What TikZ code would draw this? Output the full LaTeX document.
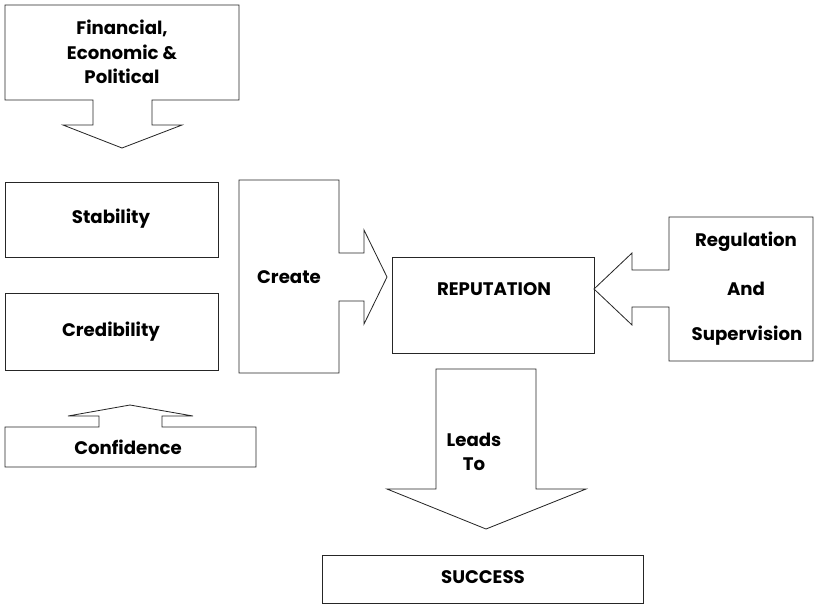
\documentclass[tikz,border=0pt]{standalone}
\usepackage{fontspec}
\setmainfont{Poppins}
\usepackage{tikz}

\tikzset{
	outline/.style={draw=black!85, line width=0.7pt, line join=miter},
	lbl/.style={font=\fontsize{15.5}{21}\selectfont\bfseries, align=center, inner sep=0pt}
}

\begin{document}
\begin{tikzpicture}[x=0.03cm, y=-0.03cm]
		%%%%% START %%%%%
		
		\useasboundingbox (0, 0) rectangle (815, 605);
		
		% top callout
		\draw[outline] (5, 5) -- (239, 5) -- (239, 100) -- (152, 100) -- (152, 125) -- (182, 125) -- (122, 148) -- (63, 125) -- (93, 125) -- (93, 100) -- (5, 100) -- cycle;
		\node[lbl] (fep) at (122, 52) {Financial,\\Economic \&\\Political};
		
		\draw[outline] (5, 182) rectangle (218, 257);
		\node[lbl] (stab) at (111, 219) {Stability};
		
		\draw[outline] (5, 293) rectangle (218, 370);
		\node[lbl] (cred) at (111, 332) {Credibility};
		
		% confidence callout
		\draw[outline] (5, 427) -- (99, 427) -- (99, 416) -- (68, 416) -- (130, 405) -- (193, 416) -- (162, 416) -- (162, 427) -- (256, 427) -- (256, 467) -- (5, 467) -- cycle;
		\node[lbl] (conf) at (128, 447) {Confidence};
		
		% create callout
		\draw[outline] (239, 180) -- (339, 180) -- (339, 253) -- (364, 253) -- (364, 230) -- (387, 277) -- (364, 324) -- (364, 301) -- (339, 301) -- (339, 373) -- (239, 373) -- cycle;
		\node[lbl] (create) at (289, 277) {Create};
		
		\draw[outline] (392, 257) rectangle (594, 353);
		\node[lbl] (rep) at (494, 289) {REPUTATION};
		
		% regulation callout
		\draw[outline] (813, 217) -- (669, 217) -- (669, 270) -- (632, 270) -- (632, 253) -- (594, 289) -- (632, 325) -- (632, 307) -- (669, 307) -- (669, 361) -- (813, 361) -- cycle;
		\node[lbl] (reg) at (746, 242) {Regulation};
		\node[lbl] (and) at (746, 289) {And};
		\node[lbl] (sup) at (747, 336) {Supervision};
		
		% leads to callout
		\draw[outline] (436, 369) -- (536, 369) -- (536, 489) -- (586, 489) -- (486, 529) -- (387, 489) -- (436, 489) -- cycle;
		\node[lbl] (leads) at (474, 452) {Leads\\To};
		
		\draw[outline] (322, 555) rectangle (643, 603);
		\node[lbl] (succ) at (483, 577) {SUCCESS};
		
		%%%%% END %%%%%
	\end{tikzpicture}
\end{document}
